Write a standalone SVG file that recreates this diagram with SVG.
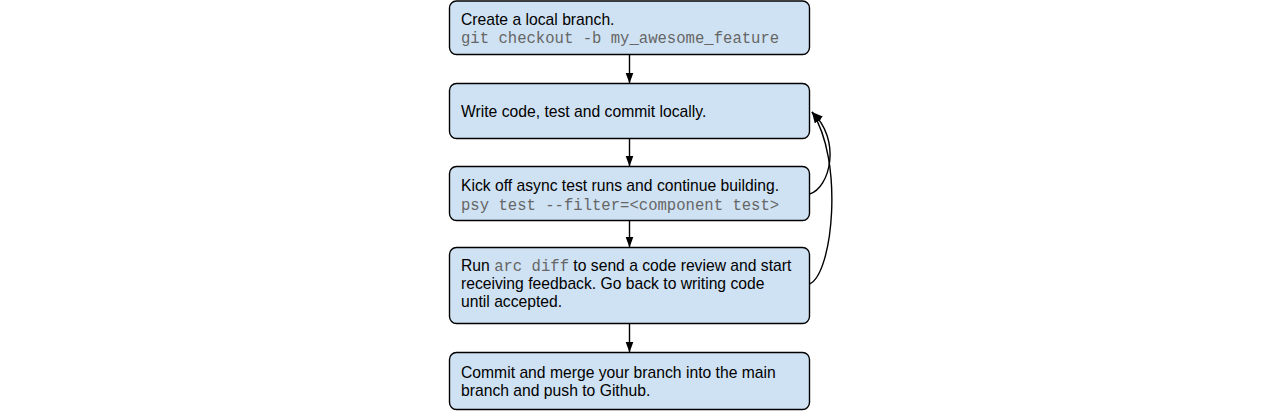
<svg xmlns="http://www.w3.org/2000/svg" width="1280" height="412" viewBox="0 0 1280 412">
  <defs>
    <style>
      .box { fill: #cfe2f3; stroke: #000; stroke-width: 1.4; }
      .t { font-family: "Liberation Sans", Arial, sans-serif; font-size: 15.7px; fill: #000; }
      .m { font-family: "Liberation Mono", "Courier New", monospace; font-size: 15.6px; fill: #666666; }
      .edge { fill: none; stroke: #000; stroke-width: 1.4; marker-end: url(#arrow); }
    </style>
    <marker id="arrow" markerUnits="userSpaceOnUse" markerWidth="12" markerHeight="9" refX="11" refY="4" orient="auto">
      <path d="M0,0 L11,4 L0,8 z" fill="#000"/>
    </marker>
  </defs>
  <rect width="1280" height="412" fill="#fff"/>

  <g id="connectors">
    <path class="edge" d="M629.5,54.5 L629.5,83.5"/>
    <path class="edge" d="M629.5,138.5 L629.5,166.5"/>
    <path class="edge" d="M629.5,220.5 L629.5,247.5"/>
    <path class="edge" d="M629.5,323.5 L629.5,352.5"/>
    <path class="edge" d="M809.5,194 C830,188 842,140 812,112"/>
    <path class="edge" d="M809.5,284 C833,274 844,160 812,112"/>
  </g>

  <g id="node-create-branch">
    <rect class="box" x="449.5" y="1" width="360" height="53.5" rx="7"/>
    <text class="t" x="461" y="25">Create a local branch.</text>
    <text class="m" x="461" y="43.3">git checkout -b my_awesome_feature</text>
  </g>

  <g id="node-write-code">
    <rect class="box" x="449.5" y="83.5" width="360" height="55" rx="7"/>
    <text class="t" x="461" y="116.5">Write code, test and commit locally.</text>
  </g>

  <g id="node-async-tests">
    <rect class="box" x="449.5" y="166.5" width="360" height="54" rx="7"/>
    <text class="t" x="461" y="190.7">Kick off async test runs and continue building.</text>
    <text class="m" x="461" y="209.5">psy test --filter=&lt;component test&gt;</text>
  </g>

  <g id="node-arc-diff">
    <rect class="box" x="449.5" y="247.5" width="360" height="76" rx="7"/>
    <text class="t" x="461" y="270.7">Run <tspan class="m">arc diff</tspan> to send a code review and start</text>
    <text class="t" x="461" y="288.8">receiving feedback. Go back to writing code</text>
    <text class="t" x="461" y="306.8">until accepted.</text>
  </g>

  <g id="node-commit-merge">
    <rect class="box" x="449.5" y="352.5" width="360" height="57" rx="7"/>
    <text class="t" x="461" y="378.3">Commit and merge your branch into the main</text>
    <text class="t" x="461" y="396">branch and push to Github.</text>
  </g>
</svg>
